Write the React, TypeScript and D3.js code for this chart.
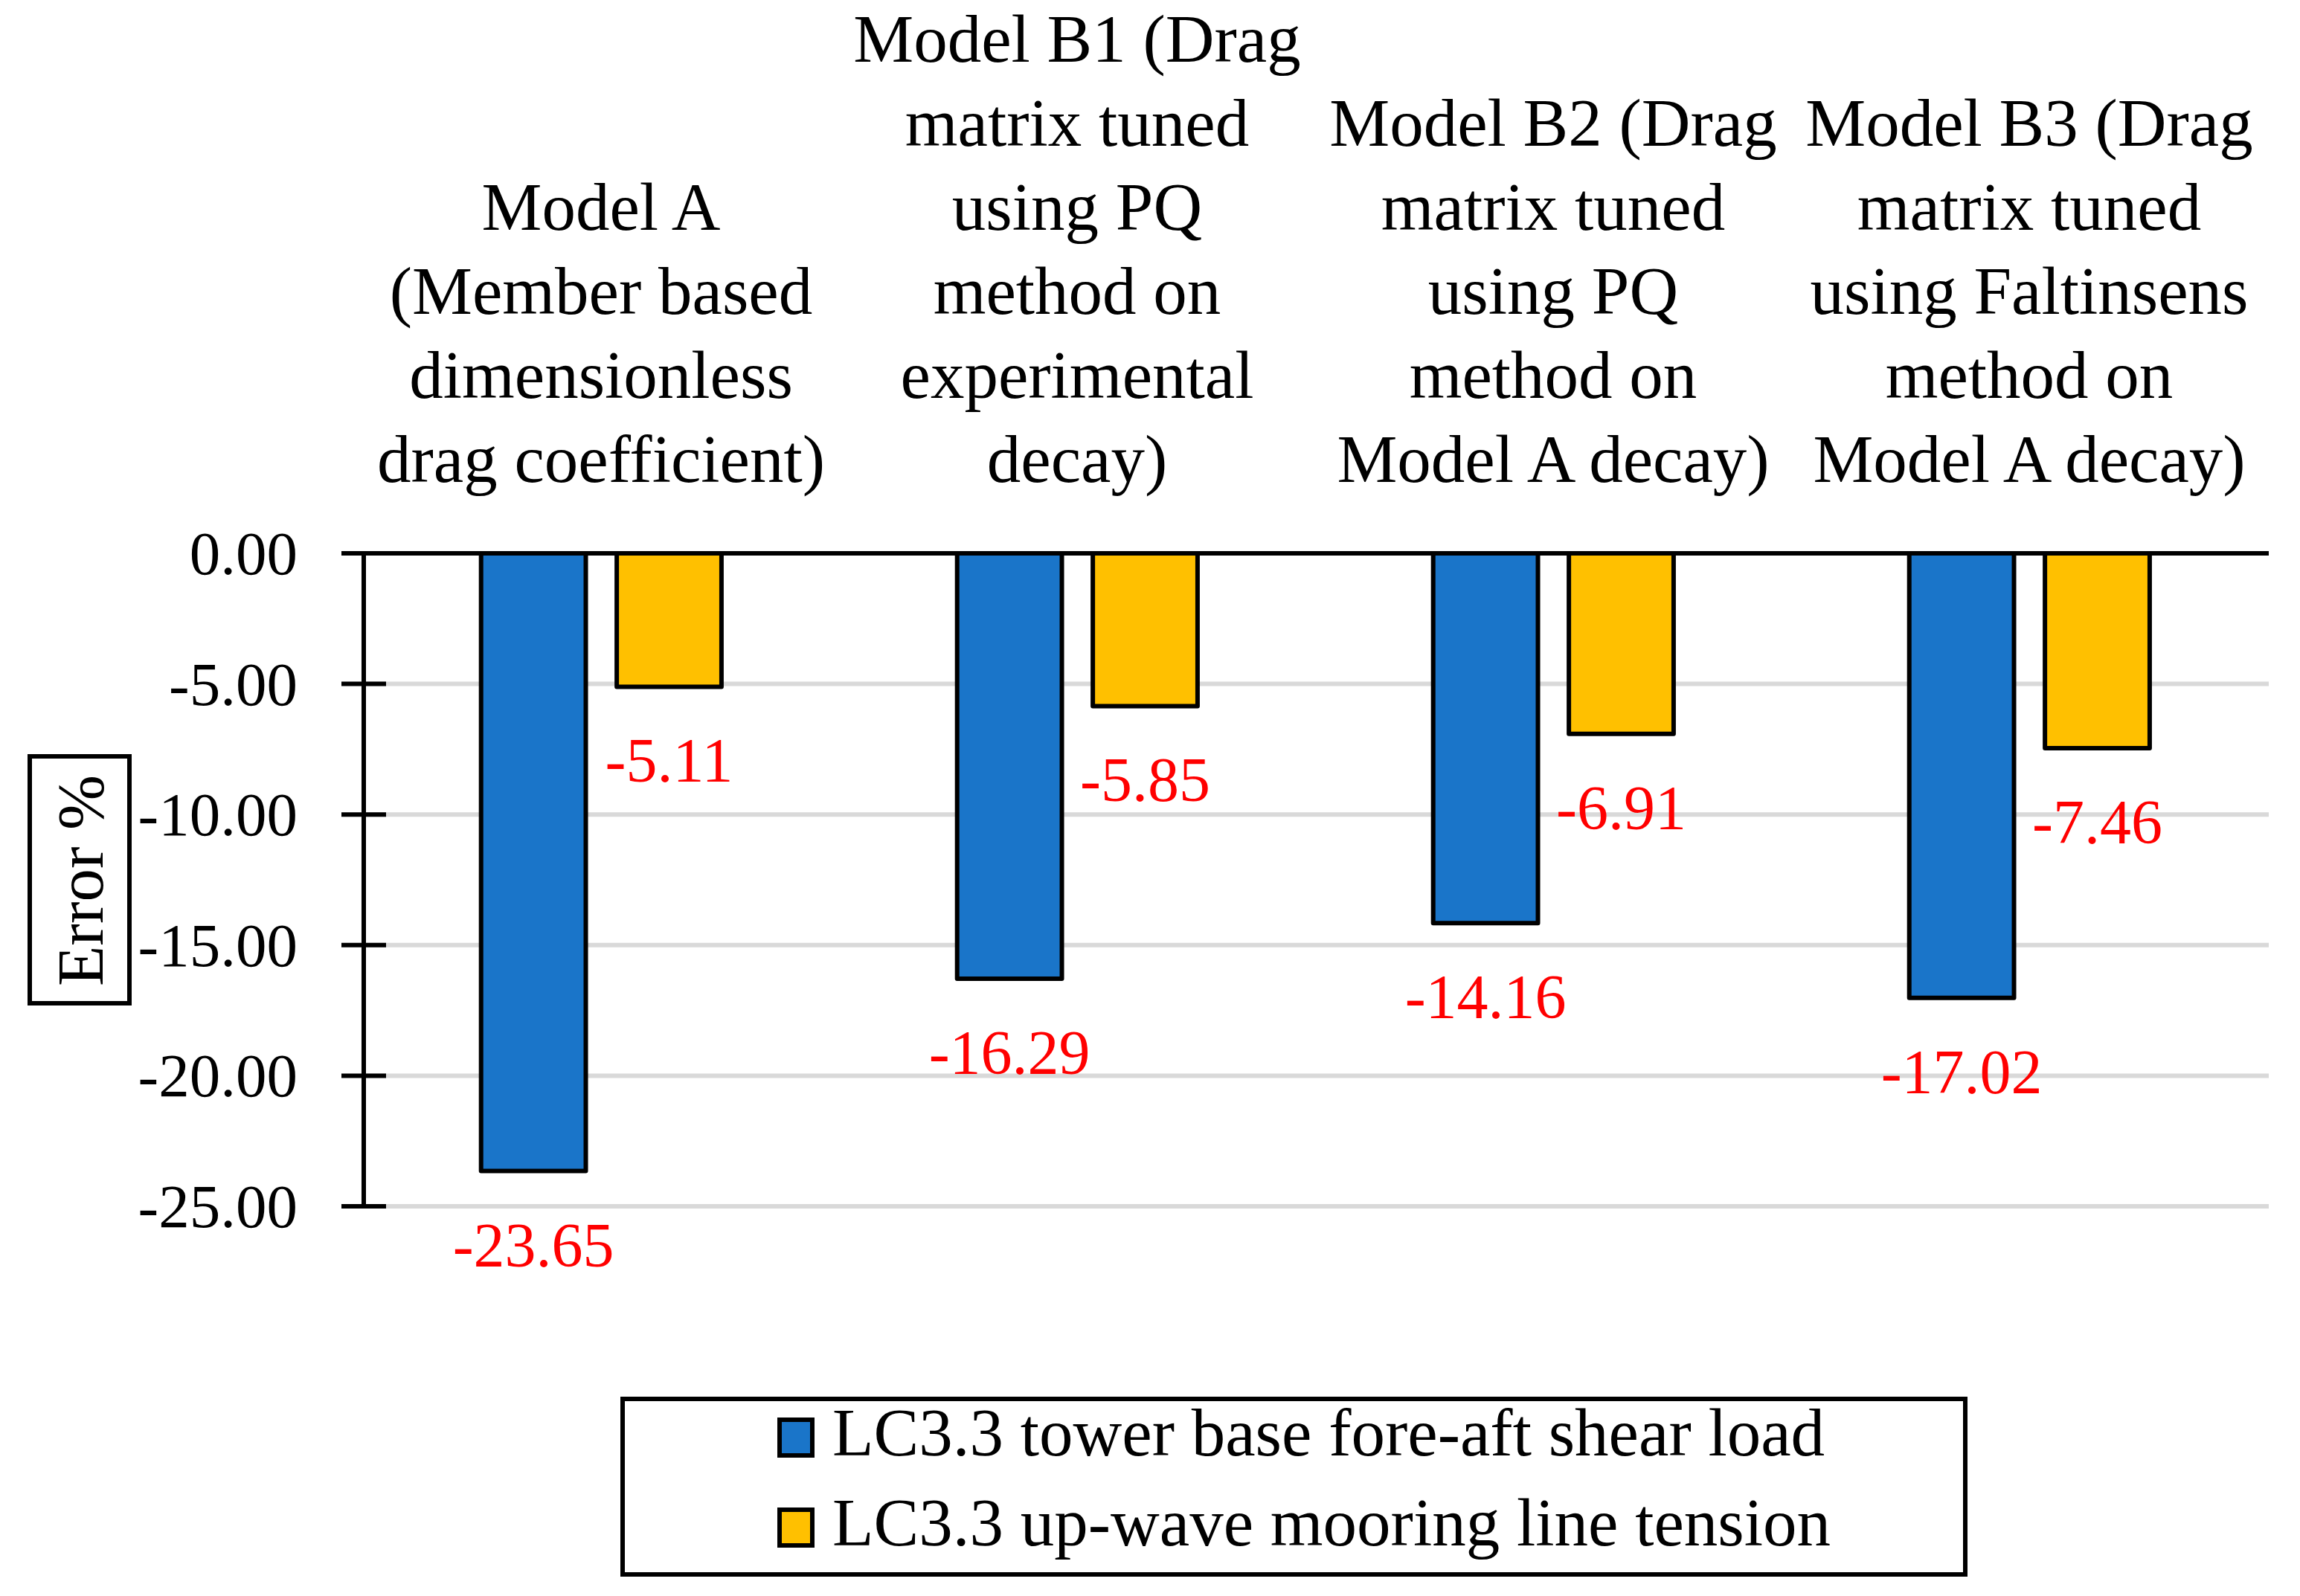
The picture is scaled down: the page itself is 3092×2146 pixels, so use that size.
import React from "react";
import * as d3 from "d3";

const categories = ["Model A", "Model B1", "Model B2", "Model B3"];
const categoryLabelLines = [
  ["Model A", "(Member based", "dimensionless", "drag coefficient)"],
  ["Model B1 (Drag", "matrix tuned", "using PQ", "method on", "experimental", "decay)"],
  ["Model B2 (Drag", "matrix tuned", "using PQ", "method on", "Model A decay)"],
  ["Model B3 (Drag", "matrix tuned", "using Faltinsens", "method on", "Model A decay)"],
];
const towerShear = [-23.65, -16.29, -14.16, -17.02];
const mooringTension = [-5.11, -5.85, -6.91, -7.46];
const yTicks = [0, -5, -10, -15, -20, -25];
const seriesNames = ["LC3.3 tower base fore-aft shear load", "LC3.3 up-wave mooring line tension"];
const seriesColors = ["#1a75c9", "#ffc000"];
const yTitle = "Error %";

const W = 3092;
const H = 2146;
const FONT = "'Liberation Serif', 'Times New Roman', serif";

export default function App() {
  const x = d3.scaleBand<string>().domain(categories).range([488, 3048]).padding(0);
  const y = d3.scaleLinear().domain([-25, 0]).range([1622, 744]);
  const bw = x.bandwidth();
  const barW = bw * 0.22;
  const offs = [-0.142 * bw, 0.143 * bw];
  const series = [towerShear, mooringTension];
  const axisX = 489;
  const plotRight = 3050;

  return (
    <svg width={W} height={H} viewBox={`0 0 ${W} ${H}`} style={{ position: "absolute", left: 0, top: 0, background: "#fff" }} fontFamily={FONT}>
      <rect x={0} y={0} width={W} height={H} fill="#fff" />
      {/* gridlines */}
      {yTicks.filter((t) => t !== 0).map((t) => (
        <line key={"g" + t} x1={axisX} x2={plotRight} y1={y(t)} y2={y(t)} stroke="#d9d9d9" strokeWidth={6} />
      ))}
      {/* bars */}
      {series.map((vals, si) =>
        vals.map((v, i) => {
          const cx = (x(categories[i]) as number) + bw / 2 + offs[si];
          return (
            <rect key={"b" + si + i} x={cx - barW / 2} y={y(0)} width={barW} height={y(v) - y(0)}
              fill={seriesColors[si]} stroke="#000" strokeWidth={6} strokeLinejoin="round" />
          );
        })
      )}
      {/* zero line */}
      <line x1={459} x2={plotRight} y1={y(0)} y2={y(0)} stroke="#000" strokeWidth={6} />
      {/* y axis */}
      <line x1={axisX} x2={axisX} y1={y(0) - 3} y2={y(-25) + 3} stroke="#000" strokeWidth={6} />
      {yTicks.map((t) => (
        <g key={"t" + t}>
          <line x1={459} x2={519} y1={y(t)} y2={y(t)} stroke="#000" strokeWidth={6} />
          <text x={400} y={y(t) + 28} textAnchor="end" fontSize={83} fill="#000">{t.toFixed(2)}</text>
        </g>
      ))}
      {/* data labels */}
      {series.map((vals, si) =>
        vals.map((v, i) => {
          const cx = (x(categories[i]) as number) + bw / 2 + offs[si];
          return (
            <text key={"l" + si + i} x={cx} y={y(v) + 128} textAnchor="middle" fontSize={84} fill="#ff0000">{v.toFixed(2)}</text>
          );
        })
      )}
      {/* category labels */}
      {categoryLabelLines.map((lines, i) => {
        const cx = (x(categories[i]) as number) + bw / 2;
        const n = lines.length;
        return (
          <text key={"c" + i} textAnchor="middle" fontSize={91} fill="#000">
            {lines.map((ln, j) => (
              <tspan key={j} x={cx} y={648 - (n - 1 - j) * 113}>{ln}</tspan>
            ))}
          </text>
        );
      })}
      {/* y title */}
      <rect x={40} y={1017} width={134} height={332} fill="none" stroke="#000" strokeWidth={6} />
      <text transform={`translate(138, 1184) rotate(-90)`} textAnchor="middle" fontSize={89} fill="#000">{yTitle}</text>
      {/* legend */}
      <rect x={837} y={1881} width={1805} height={236} fill="#fff" stroke="#000" strokeWidth={6} />
      {seriesNames.map((name, i) => {
        const cy = i === 0 ? 1933 : 2054;
        return (
          <g key={"lg" + i}>
            <rect x={1048} y={cy - 24} width={44} height={48} fill={seriesColors[i]} stroke="#000" strokeWidth={6} />
            <text x={1119} y={cy + 24} fontSize={91} fill="#000">{name}</text>
          </g>
        );
      })}
    </svg>
  );
}
